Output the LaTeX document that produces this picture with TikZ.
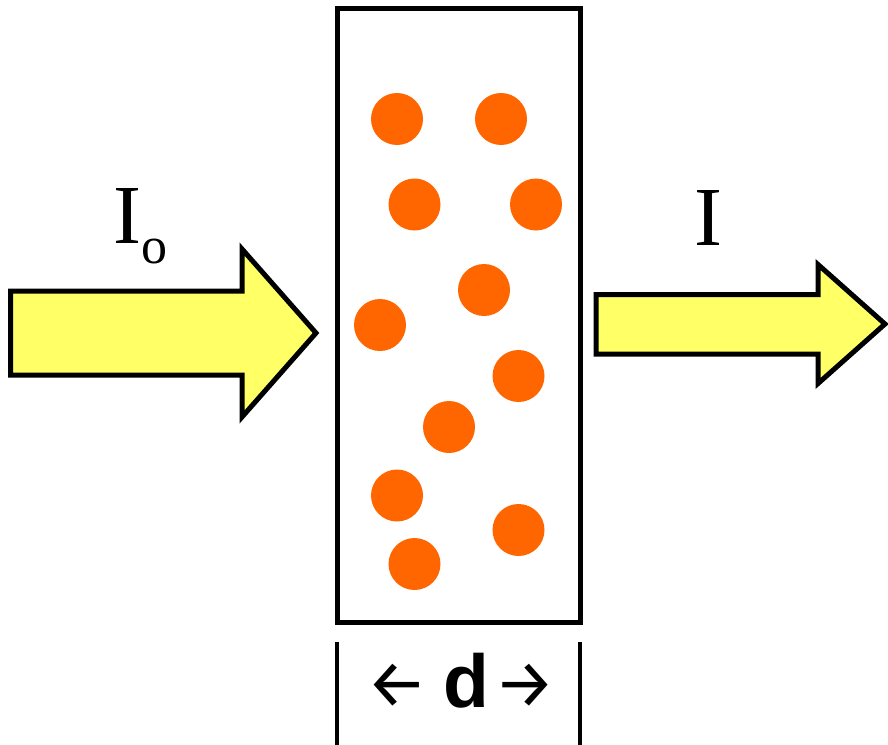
\documentclass[tikz,border=0pt]{standalone}
\usepackage{fontspec}
\setmainfont{Liberation Serif}
\newfontfamily\dimfont{Liberation Sans Bold}
\newfontfamily\arrowfont{Fira Sans}
\definecolor{beamyellow}{RGB}{255,255,102}
\definecolor{dotorange}{RGB}{255,102,0}
\usetikzlibrary{positioning}

\begin{document}
\begin{tikzpicture}[x=1pt,y=-1pt,
    beam/.style={draw=black,line width=5pt,fill=beamyellow,miter limit=20},
    particle/.style={circle,fill=dotorange,minimum size=52pt,inner sep=0pt},
    intensity/.style={font=\fontsize{84}{84}\selectfont,inner sep=0pt,anchor=base west},
    dimarrow/.style={font=\arrowfont\fontsize{68}{68}\selectfont,inner sep=0pt,yshift=-6pt},
    bar/.style={line width=4.5pt}]
  \useasboundingbox (0,0) rectangle (888,744);

  \node[draw,line width=5pt,minimum width=243pt,minimum height=614pt,
        inner sep=0pt,outer sep=0pt] (cell) at (458.5,315) {};

  \draw[beam] (10.5,291) -- (242,291) -- (242,249) -- (316,333)
    -- (242,417) -- (242,375) -- (10.5,375) -- cycle;
  \draw[beam] (596,294.5) -- (818,294.5) -- (818,264.5) -- (885,324)
    -- (818,383.5) -- (818,354) -- (596,354) -- cycle;

  \node[intensity] (Iin) at (113,243)
    {I\raisebox{-20pt}{\fontsize{52}{52}\selectfont o}};
  \node[intensity] (Iout) at (694,245) {I};

  \foreach \px/\py in {397/119, 501/119, 414.5/204.5, 536/204.5, 484/290,
      380/325, 518.5/376, 449/427, 397/495.5, 518.5/530, 414.5/564}
    \node[particle] at (\px,\py) {};

  \coordinate (dl) at (337,642);
  \coordinate (dr) at (580,642);
  \draw[bar] (dl) -- ++(0,110);
  \draw[bar] (dr) -- ++(0,110);
  \node[font=\dimfont\fontsize{75}{75}\selectfont,inner sep=0pt,anchor=base]
    (dsym) at (466,707) {d};
  \node[dimarrow,left=15pt of dsym] (arrL) {←};
  \node[dimarrow,right=5pt of dsym] (arrR) {→};
\end{tikzpicture}
\end{document}
